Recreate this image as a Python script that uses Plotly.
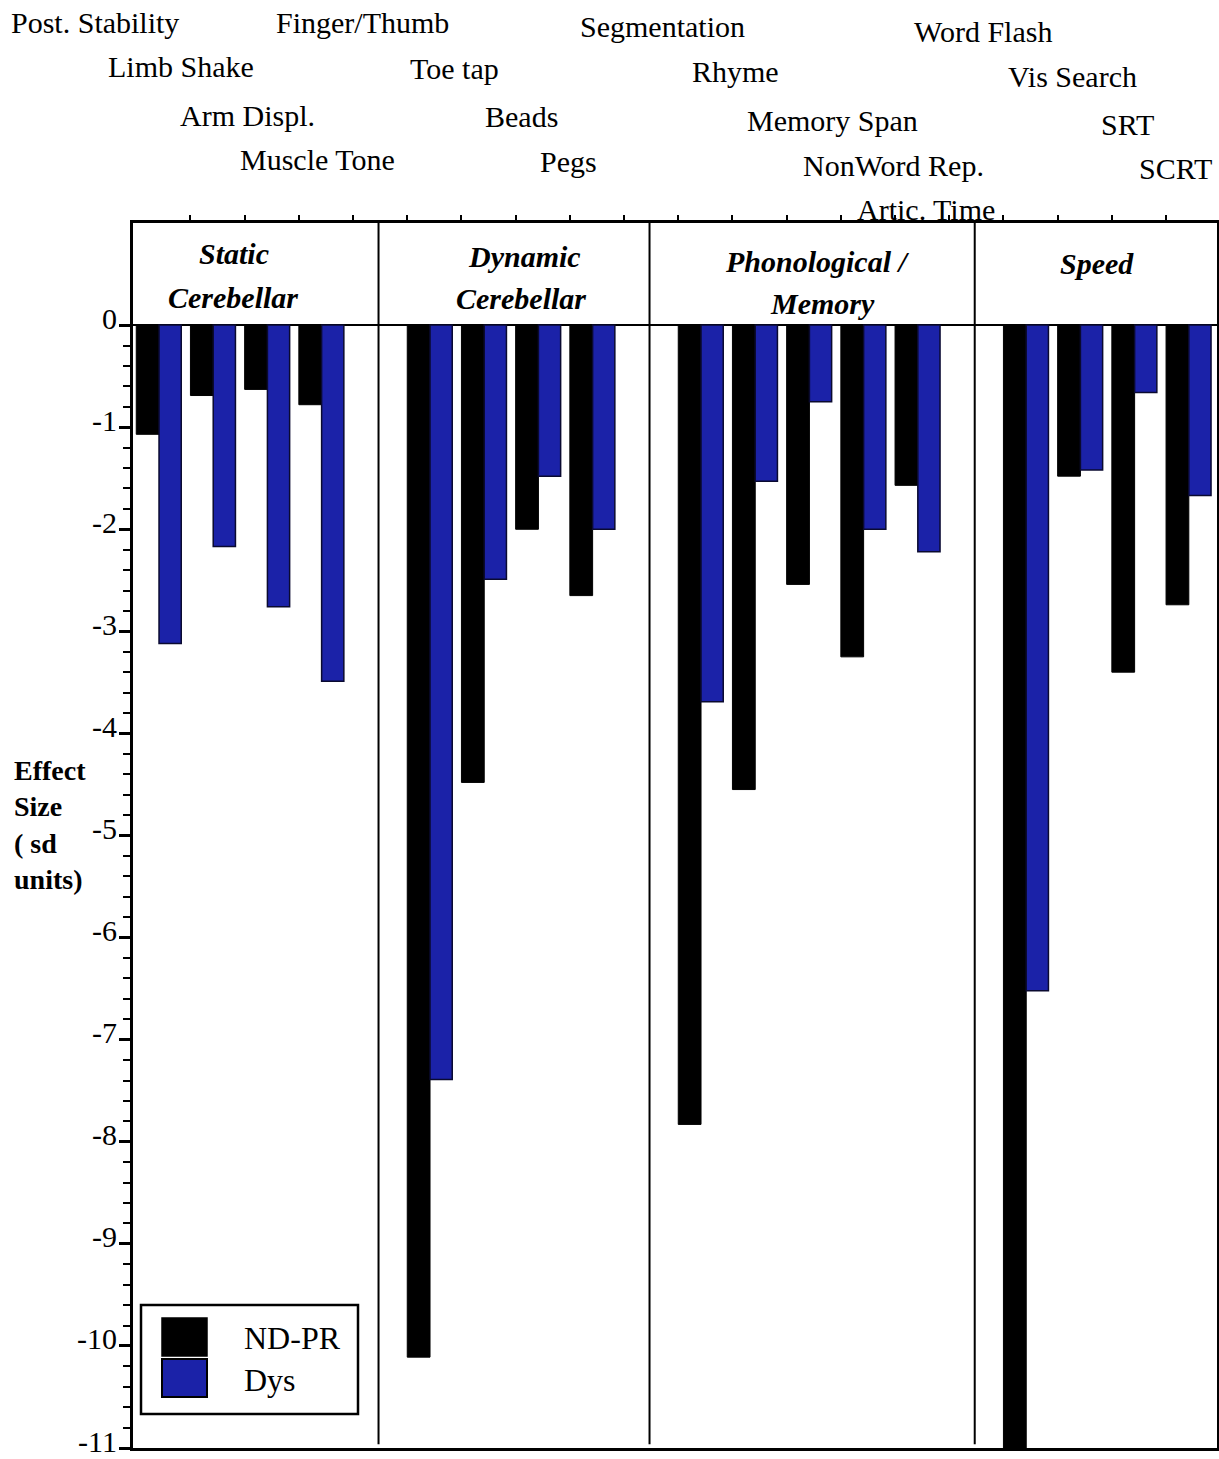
import numpy as np
import plotly.graph_objects as go

# ---------------- data ----------------
CATEGORIES = ["Post. Stability", "Limb Shake", "Arm Displ.", "Muscle Tone",
              "Finger/Thumb", "Toe tap", "Beads", "Pegs",
              "Segmentation", "Rhyme", "Memory Span", "NonWord Rep.", "Artic. Time",
              "Word Flash", "Vis Search", "SRT", "SCRT"]
GROUP_SIZES = [4, 4, 5, 4]
GROUP_TITLES = [["Static", "Cerebellar"], ["Dynamic", "Cerebellar"],
                ["Phonological /", "Memory"], ["Speed"]]
ND_PR = [-1.07, -0.69, -0.63, -0.78,
         -10.11, -4.48, -2.00, -2.65,
         -7.83, -4.55, -2.54, -3.25, -1.57,
         -11.2, -1.48, -3.40, -2.74]
DYS = [-3.12, -2.17, -2.76, -3.49,
       -7.39, -2.49, -1.48, -2.00,
       -3.69, -1.53, -0.75, -2.00, -2.22,
       -6.52, -1.42, -0.66, -1.67]
SERIES_NAMES = ["ND-PR", "Dys"]
Y_TICK_VALUES = [0, -1, -2, -3, -4, -5, -6, -7, -8, -9, -10, -11]
Y_TICK_LABELS = ["0", "-1", "-2", "-3", "-4", "-5", "-6", "-7", "-8", "-9", "-10", "-11"]
Y_TITLE = "Effect<br>Size<br>( sd<br>units)"

# ---------------- layout helpers ----------------
W, H = 1219, 1459
PL, PR, PT, PB = 133, 1217, 223, 1448

def px_x(X):
    return (X - PL) / (PR - PL)

def px_y(Y):
    return (PB - Y) / (PB - PT)

# slot positions: one empty slot between groups
slots = []
s = 0
for g in GROUP_SIZES:
    for _ in range(g):
        slots.append(s)
        s += 1
    s += 1
dividers = []
acc = 0
for g in GROUP_SIZES[:-1]:
    acc += g
    dividers.append(slots[acc - 1] + 1.05)

FONT = "Liberation Serif"
BLUE = "#1b22a8"

fig = go.Figure()
fig.add_trace(go.Bar(x=slots, y=ND_PR, name=SERIES_NAMES[0], offset=-0.42, width=0.42,
                     marker=dict(color="black", line=dict(color="black", width=1))))
fig.add_trace(go.Bar(x=slots, y=DYS, name=SERIES_NAMES[1], offset=0.0, width=0.41,
                     marker=dict(color=BLUE, line=dict(color="#0a0a30", width=1.5))))

shapes = []
for d in dividers:
    shapes.append(dict(type="line", xref="x", yref="paper", x0=d, x1=d, y0=0.003, y1=1,
                       line=dict(color="black", width=2)))

# manual legend
shapes.append(dict(type="rect", xref="paper", yref="paper",
                   x0=px_x(141), x1=px_x(358), y0=px_y(1414), y1=px_y(1305),
                   line=dict(color="black", width=2.5), fillcolor="white", layer="above"))
shapes.append(dict(type="rect", xref="paper", yref="paper",
                   x0=px_x(162), x1=px_x(207), y0=px_y(1356), y1=px_y(1318),
                   line=dict(color="black", width=1.5), fillcolor="black", layer="above"))
shapes.append(dict(type="rect", xref="paper", yref="paper",
                   x0=px_x(162), x1=px_x(207), y0=px_y(1397), y1=px_y(1359),
                   line=dict(color="black", width=2), fillcolor=BLUE, layer="above"))

annotations = []
# category labels (staggered above the plot)
LABEL_PX = [(95, 22), (181, 66), (247, 115), (317, 159),
            (362, 22), (455, 68), (521, 116), (568, 161),
            (662, 26), (735, 71), (832, 121), (893, 165), (926, 209),
            (983, 32), (1072, 77), (1127, 125), (1175, 169)]
for name, (lx, ly) in zip(CATEGORIES, LABEL_PX):
    annotations.append(dict(text=name, xref="paper", yref="paper", x=px_x(lx), y=px_y(ly),
                            xanchor="center", yanchor="middle", showarrow=False,
                            font=dict(family=FONT, size=30, color="black")))

# group titles
TITLE_PX = [[(234, 254), (233, 298)], [(524, 256), (521, 299)],
            [(817, 261), (822, 303)], [(1097, 264)]]
for lines, poss in zip(GROUP_TITLES, TITLE_PX):
    for t, (tx, ty) in zip(lines, poss):
        annotations.append(dict(text=t, xref="paper", yref="paper", x=px_x(tx), y=px_y(ty),
                                xanchor="center", yanchor="middle", showarrow=False,
                                font=dict(family=FONT, size=30, color="black",
                                          weight="bold", style="italic")))

# legend texts
annotations.append(dict(text=SERIES_NAMES[0], xref="paper", yref="paper", x=px_x(242), y=px_y(1338),
                        xanchor="left", yanchor="middle", showarrow=False,
                        font=dict(family=FONT, size=32, color="black")))
annotations.append(dict(text=SERIES_NAMES[1], xref="paper", yref="paper", x=px_x(242), y=px_y(1380),
                        xanchor="left", yanchor="middle", showarrow=False,
                        font=dict(family=FONT, size=32, color="black")))

# y-axis title
annotations.append(dict(text=Y_TITLE, xref="paper", yref="paper", x=px_x(12), y=px_y(825),
                        xanchor="left", yanchor="middle", align="left", showarrow=False,
                        font=dict(family=FONT, size=28, color="black", weight="bold")))

minor_vals = [v for v in np.round(np.arange(-11, 0.001, 0.2), 1) if abs(v - round(v)) > 1e-6]

fig.update_layout(
    width=W, height=H,
    margin=dict(l=PL, r=W - PR, t=PT, b=H - PB, autoexpand=False),
    paper_bgcolor="white", plot_bgcolor="white",
    showlegend=False, barmode="overlay",
    shapes=shapes, annotations=annotations,
    font=dict(family=FONT, color="black"),
    xaxis=dict(range=[-0.48, 19.52], side="top", showgrid=False, zeroline=False,
               automargin=False,
               tickmode="array", tickvals=[k - 0.42 for k in range(1, 20)],
               ticks="outside", ticklen=5, tickwidth=2, tickcolor="black",
               showticklabels=False, showline=True, linecolor="black", linewidth=2.5,
               mirror=True),
    yaxis=dict(range=[-11, 1.0], showgrid=False, zeroline=True, zerolinecolor="black",
               automargin=False,
               zerolinewidth=1.5, tickmode="array", tickvals=Y_TICK_VALUES,
               ticktext=Y_TICK_LABELS, ticks="outside", ticklen=11, tickwidth=2.5,
               tickcolor="black", tickfont=dict(family=FONT, size=30, color="black"),
               ticklabeloverflow="allow", ticklabelshift=-7, ticklabelstandoff=-4,
               showline=True, linecolor="black", linewidth=3, mirror=True,
               minor=dict(tickmode="array", tickvals=minor_vals, ticks="outside",
                          ticklen=7, tickwidth=2, tickcolor="black")),
)

fig.write_html("out.html", config={"displayModeBar": False},
               post_script="document.body.style.margin='0';document.body.style.overflow='hidden';")
